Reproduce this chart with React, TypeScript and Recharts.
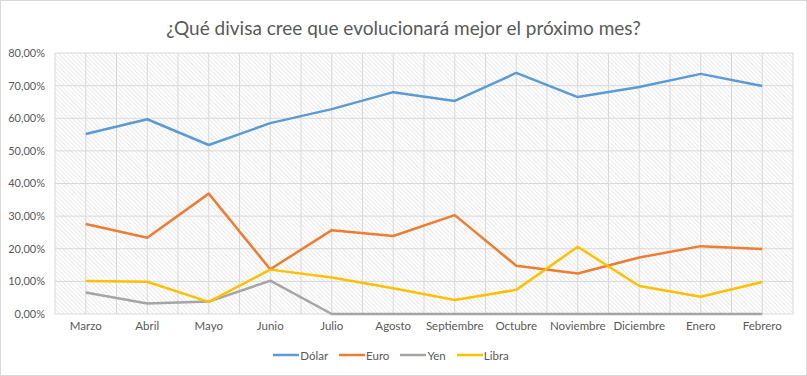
import { LineChart, Line, XAxis, YAxis, CartesianGrid, Legend } from "recharts";

const months = [
  "Marzo",
  "Abril",
  "Mayo",
  "Junio",
  "Julio",
  "Agosto",
  "Septiembre",
  "Octubre",
  "Noviembre",
  "Diciembre",
  "Enero",
  "Febrero",
];

const dolar = [55.2, 59.7, 51.8, 58.5, 62.8, 68.0, 65.3, 73.9, 66.5, 69.6, 73.6, 69.9];
const euro = [27.6, 23.4, 36.9, 13.7, 25.7, 23.9, 30.3, 14.8, 12.4, 17.3, 20.8, 19.9];
const yen = [6.6, 3.2, 3.8, 10.2, 0, 0, 0, 0, 0, 0, 0, 0];
const libra = [10.1, 9.9, 3.7, 13.6, 11.2, 7.9, 4.3, 7.4, 20.6, 8.6, 5.3, 9.8];

const yTicks = [0, 10, 20, 30, 40, 50, 60, 70, 80];

const series = [
  { key: "dolar", name: "Dólar", color: "#5B9BD5" },
  { key: "euro", name: "Euro", color: "#ED7D31" },
  { key: "yen", name: "Yen", color: "#A5A5A5" },
  { key: "libra", name: "Libra", color: "#FFC000" },
];

const data = months.map((m, i) => ({
  month: m,
  dolar: dolar[i],
  euro: euro[i],
  yen: yen[i],
  libra: libra[i],
}));

const FONT = "Lato, 'Open Sans', sans-serif";
const TEXT = "#595959";

const W = 807;
const H = 376;
const PLOT_W = 738;
const HALF_CAT = PLOT_W / months.length / 2;

const fmtPct = (v: number) => `${v.toFixed(2).replace(".", ",")}%`;

const LegendContent = () => (
  <div
    style={{
      display: "flex",
      justifyContent: "center",
      alignItems: "center",
      height: 22,
      fontFamily: FONT,
      fontSize: 11.5,
      color: TEXT,
    }}
  >
    {series.map((s) => (
      <div key={s.key} style={{ display: "flex", alignItems: "center", marginRight: 11 }}>
        <svg width={26} height={4} style={{ marginRight: 1 }}>
          <line x1={0} y1={2} x2={26} y2={2} stroke={s.color} strokeWidth={2.5} />
        </svg>
        <span>{s.name}</span>
      </div>
    ))}
  </div>
);

export default function App() {
  return (
    <div
      style={{
        position: "absolute",
        left: 0,
        top: 0,
        width: W,
        height: H,
        background: "#fff",
        boxSizing: "border-box",
        border: "1px solid #d9d9d9",
      }}
    >
      <svg width={0} height={0} style={{ position: "absolute" }}>
        <defs>
          <pattern
            id="hatch"
            patternUnits="userSpaceOnUse"
            width={3}
            height={3}
            patternTransform="rotate(-45)"
          >
            <rect width={3} height={3} fill="#ffffff" />
            <line x1={0} y1={0} x2={0} y2={3} stroke="#d4d4d4" strokeWidth={1} />
          </pattern>
        </defs>
      </svg>
      <div
        style={{
          position: "absolute",
          top: 15,
          left: 0,
          width: "100%",
          textAlign: "center",
          fontFamily: FONT,
          fontSize: 19,
          lineHeight: "24px",
          color: TEXT,
        }}
      >
        ¿Qué divisa cree que evolucionará mejor el próximo mes?
      </div>
      <div style={{ position: "absolute", left: -1, top: -1 }}>
        <LineChart
          width={W}
          height={H}
          data={data}
          margin={{ top: 53, right: 14, left: 0, bottom: 10 }}
        >
          <CartesianGrid
            fill="url(#hatch)"
            stroke="#d9d9d9"
            strokeWidth={1}
            verticalCoordinatesGenerator={({ offset }: any) =>
              Array.from({ length: months.length * 2 + 1 }, (_, i) => offset.left + (i * offset.width) / (months.length * 2))
            }
          />
          <XAxis
            dataKey="month"
            axisLine={false}
            tickLine={false}
            tickSize={0}
            tickMargin={8}
            height={30}
            interval={0}
            padding={{ left: HALF_CAT, right: HALF_CAT }}
            tick={{ fill: TEXT, fontSize: 11.5, fontFamily: FONT }}
          />
          <YAxis
            width={55}
            domain={[0, 80]}
            ticks={yTicks}
            tickFormatter={fmtPct}
            axisLine={false}
            tickLine={false}
            tickSize={0}
            tickMargin={10}
            tick={{ fill: TEXT, fontSize: 11, fontFamily: FONT }}
          />
          <Legend verticalAlign="bottom" height={22} content={<LegendContent />} />
          {series.map((s) => (
            <Line
              key={s.key}
              type="linear"
              dataKey={s.key}
              name={s.name}
              stroke={s.color}
              strokeWidth={2.5}
              strokeLinejoin="round"
              dot={false}
              activeDot={false}
              isAnimationActive={false}
            />
          ))}
        </LineChart>
      </div>
    </div>
  );
}
